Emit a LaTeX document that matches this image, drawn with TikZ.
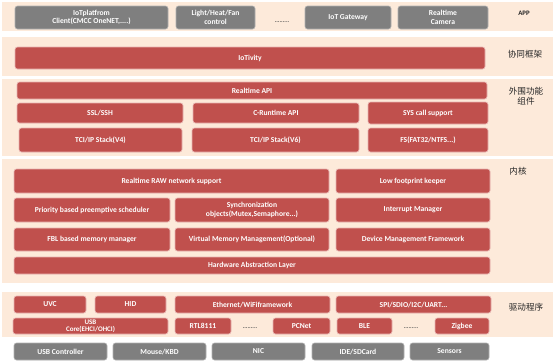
\documentclass[tikz,border=0pt]{standalone}
\usepackage{fontspec}
\setmainfont{Carlito}
\newfontfamily\cjk{Noto Sans CJK SC}
\definecolor{bandc}{HTML}{FDEADA}
\definecolor{redc}{HTML}{C0504D}
\definecolor{redb}{HTML}{E8B4B2}
\definecolor{grayc}{HTML}{7F7F7F}
\definecolor{grayb}{HTML}{B0B0B0}
\tikzset{
  redbox/.style={draw=redb, line width=0.6pt, fill=redc, rounded corners=2.5pt, text=white, font=\bfseries\fontsize{7.6}{8.4}\selectfont, align=center, inner sep=0pt},
  graybox/.style={draw=grayb, line width=0.6pt, fill=grayc, rounded corners=2.5pt, text=white, font=\bfseries\fontsize{7.6}{8.4}\selectfont, align=center, inner sep=0pt},
  smalltext/.style={font=\bfseries\fontsize{7}{7}\selectfont},
  band/.style={fill=bandc, draw=none},
  layerlabel/.style={font=\cjk\fontsize{8.6}{10}\selectfont, text=black!85, align=center, inner sep=0pt},
  dots/.style={font=\bfseries\fontsize{6}{7}\selectfont, text=black!70, inner sep=0pt}
}
\newcommand\bx[7]{\node[#7, minimum width={(#4-#2)*1pt}, minimum height={(#5-#3)*1pt}] (#1) at ({(#2+#4)/2},{(#3+#5)/2}) {#6};}
\begin{document}
\begin{tikzpicture}[x=1pt,y=-1pt]
\useasboundingbox[fill=white] (0,0) rectangle (556,362);
% bands
\fill[band] (2,2) rectangle (553,31);
\fill[band] (2,37) rectangle (553,76);
\fill[band] (2,79) rectangle (553,156);
\fill[band] (2,159) rectangle (553,283);
\fill[band] (2,292) rectangle (553,337);
% APP
\bx{iotp}{15}{6}{168}{29}{IoTplatfrom\\Client(CMCC OneNET,....)}{graybox}
\bx{light}{176}{6}{255}{29}{Light/Heat/Fan\\control}{graybox}
\node[dots] (appdots) at (282,22) {.........};
\bx{gw}{305}{6}{391}{29}{IoT Gateway}{graybox}
\bx{cam}{398}{6}{488}{29}{Realtime\\Camera}{graybox}
\node[layerlabel, font=\bfseries\fontsize{6.8}{7.5}\selectfont] (lapp) at (524,13) {APP};
% collab
\bx{iotivity}{15}{47}{485}{69}{IoTivity}{redbox}
\node[layerlabel] (lcollab) at (525,54) {协同框架};
% peripheral
\bx{rtapi}{17}{82}{487}{99}{Realtime API}{redbox}
\bx{ssl}{17}{103}{183}{123}{SSL/SSH}{redbox}
\bx{crt}{193}{103}{359}{123}{C-Runtime API}{redbox}
\bx{sys}{368}{102}{488}{124}{SYS call support}{redbox}
\bx{tcp4}{19}{128}{182}{152}{TCI/IP Stack(V4)}{redbox}
\bx{tcp6}{192}{128}{359}{152}{TCI/IP Stack(V6)}{redbox}
\bx{fs}{368}{128}{488}{152}{FS(FAT32/NTFS...)}{redbox}
\node[layerlabel] (lperi) at (526,96) {外围功能\\组件};
% kernel
\bx{raw}{14}{169}{329}{193}{Realtime RAW network support}{redbox}
\bx{lowfp}{336}{169}{490}{193}{Low footprint keeper}{redbox}
\bx{prio}{14}{198}{170}{222}{Priority based preemptive scheduler}{redbox}
\bx{sync}{175}{198}{329}{222}{Synchronization\\objects(Mutex,Semaphore...)}{redbox}
\bx{intr}{336}{198}{490}{222}{Interrupt Manager}{redbox}
\bx{fbl}{14}{228}{170}{251}{FBL based memory manager}{redbox}
\bx{vmm}{175}{228}{329}{251}{Virtual Memory Management(Optional)}{redbox}
\bx{dev}{336}{228}{490}{251}{Device Management Framework}{redbox}
\bx{hal}{14}{257}{490}{274}{Hardware Abstraction Layer}{redbox}
\node[layerlabel] (lkernel) at (518,171) {内核};
% drivers
\bx{uvc}{14}{296}{86}{313}{UVC}{redbox}
\bx{hid}{95}{296}{166}{313}{HID}{redbox}
\bx{eth}{175}{296}{330}{313}{Ethernet/WiFiframework}{redbox}
\bx{spi}{336}{296}{491}{313}{SPI/SDIO/I2C/UART...}{redbox}
\bx{usb}{13}{318}{168}{334}{USB\\Core(EHCI/OHCI)}{redbox,smalltext}
\bx{rtl}{175}{318}{231}{334}{RTL8111}{redbox}
\node[dots] (drvdots1) at (250,328) {.........};
\bx{pcnet}{273}{318}{330}{334}{PCNet}{redbox}
\bx{ble}{337}{318}{392}{334}{BLE}{redbox}
\node[dots] (drvdots2) at (411,328) {.........};
\bx{zig}{435}{318}{489}{334}{Zigbee}{redbox}
\node[layerlabel] (ldrv) at (526,307) {驱动程序};
% hardware
\bx{usbc}{14}{343}{107}{360}{USB Controller}{graybox}
\bx{mouse}{113}{343}{206}{360}{Mouse/KBD}{graybox}
\bx{nic}{212}{343}{305}{360}{NIC}{graybox}
\bx{ide}{312}{343}{404}{360}{IDE/SDCard}{graybox}
\bx{sens}{410}{343}{489}{360}{Sensors}{graybox}
\end{tikzpicture}
\end{document}
